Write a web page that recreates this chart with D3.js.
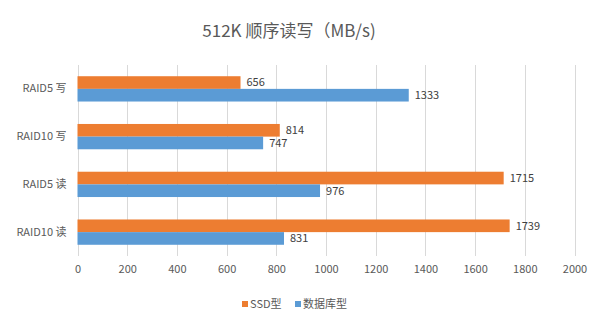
<!DOCTYPE html>
<html><head><meta charset="utf-8">
<script src="https://cdn.jsdelivr.net/npm/d3@7"></script>
<style>body{margin:0;background:#fff}svg{display:block}</style>
</head><body>
<script>
const categories = ["RAID5 写", "RAID10 写", "RAID5 读", "RAID10 读"];
const seriesNames = ["SSD型", "数据库型"];
const ssdValues = [656, 814, 1715, 1739];
const dbValues = [1333, 747, 976, 831];
const xTicks = [0, 200, 400, 600, 800, 1000, 1200, 1400, 1600, 1800, 2000];
const colors = ["#ED7D31", "#5B9BD5"];
const titleText = "512K 顺序读写（MB/s)";

(function () {
const W = 604, H = 322;
const font = "'Noto Sans CJK SC', 'Liberation Sans', sans-serif";
const svg = d3.select("body").append("svg").attr("width", W).attr("height", H);
svg.append("rect").attr("width", W).attr("height", H).attr("fill", "#fff");

const mLeft = 77.5, mRight = 574.5, mTop = 65, mBottom = 256;
const x = d3.scaleLinear().domain([0, 2000]).range([mLeft, mRight]);
const y = d3.scaleBand().domain(categories).range([mTop, mBottom]).paddingInner(0.47).paddingOuter(0.235);
const sub = d3.scaleBand().domain(seriesNames).range([0, y.bandwidth()]);

svg.append("text").attr("x", 289).attr("y", 37).attr("text-anchor", "middle")
  .attr("font-family", font).attr("font-size", 17).attr("fill", "#595959").text(titleText);

// grid
svg.append("g").selectAll("line").data(xTicks).join("line")
  .attr("x1", d => Math.round(x(d)) + 0.5).attr("x2", d => Math.round(x(d)) + 0.5)
  .attr("y1", mTop).attr("y2", mBottom).attr("stroke", "#D9D9D9").attr("stroke-width", 1);

// x axis
const xa = svg.append("g").attr("transform", `translate(0,${mBottom})`)
  .call(d3.axisBottom(x).tickValues(xTicks).tickSize(0).tickPadding(9).tickFormat(d3.format("d")));
xa.select(".domain").remove();
xa.selectAll("text").attr("font-family", font).attr("font-size", 11).attr("fill", "#595959");

// y axis
const ya = svg.append("g").attr("transform", `translate(${mLeft},0)`)
  .call(d3.axisLeft(y).tickSize(0).tickPadding(11));
ya.select(".domain").remove();
ya.selectAll("text").attr("font-family", font).attr("font-size", 11).attr("fill", "#595959");

const data = categories.map((c, i) => ({c, vals: [ssdValues[i], dbValues[i]]}));
const g = svg.append("g");
data.forEach(d => {
  d.vals.forEach((v, j) => {
    const yy = y(d.c) + sub(seriesNames[j]);
    g.append("rect").attr("x", x(0)).attr("y", yy).attr("width", x(v) - x(0))
      .attr("height", sub.bandwidth()).attr("fill", colors[j]);
    g.append("text").attr("x", x(v) + 6).attr("y", yy + sub.bandwidth() / 2).attr("dy", "0.35em")
      .attr("font-family", font).attr("font-size", 11).attr("fill", "#404040").text(v);
  });
});

// legend
const legX = [242, 295];
const leg = svg.append("g");
seriesNames.forEach((n, j) => {
  leg.append("rect").attr("x", legX[j]).attr("y", 301).attr("width", 6).attr("height", 6).attr("fill", colors[j]);
  leg.append("text").attr("x", legX[j] + 8).attr("y", 304).attr("dy", "0.35em")
    .attr("font-family", font).attr("font-size", 11).attr("fill", "#595959").text(n);
});
})();
</script>
</body></html>
